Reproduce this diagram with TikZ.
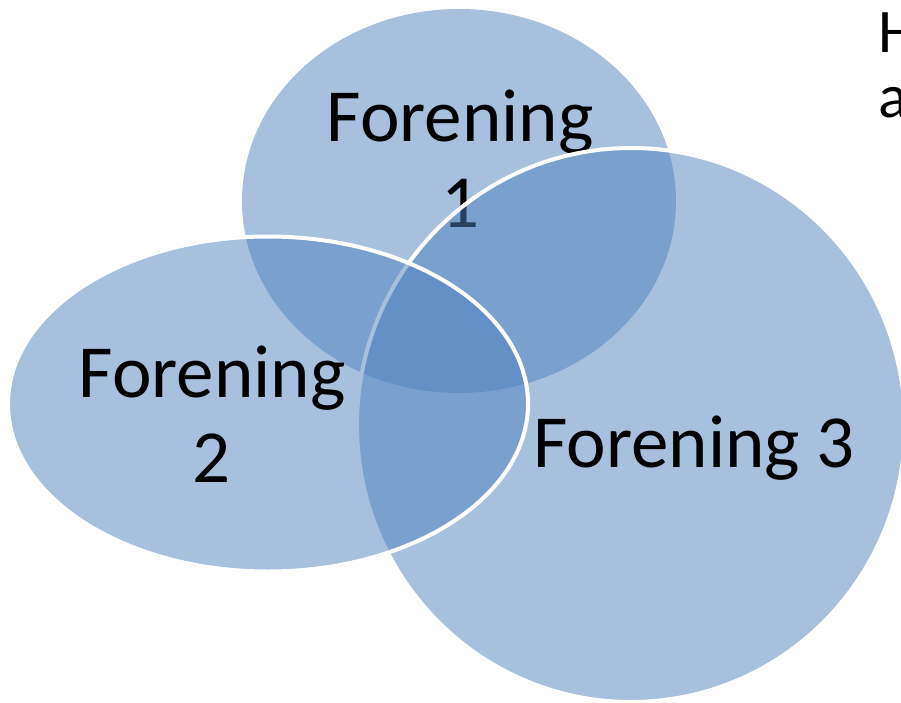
\documentclass[tikz,border=0pt]{standalone}
\usepackage{fontspec}
\setmainfont{Carlito}
\usetikzlibrary{shapes.geometric}
\definecolor{accent}{HTML}{4F81BD}
\begin{document}
\begin{tikzpicture}[x=1pt, y=-1pt,
    venn/.style = {shape=ellipse, inner sep=0pt, fill=accent, fill opacity=0.5},
    rim/.style = {draw=white, line width=4pt},
    txt/.style = {anchor=base, inner sep=0pt, font=\fontsize{75}{85}\selectfont},
    side/.style = {anchor=base west, inner sep=0pt, font=\fontsize{62}{65}\selectfont}]
  \useasboundingbox (0,0) rectangle (901,703);
  \node[venn, minimum width=434pt, minimum height=384pt] (f1) at (459,201) {};
  \node[txt] (f1a) at (460,142) {Forening};
  \node[txt] (f1b) at (460,227) {1};
  \node[venn, rim, minimum width=548pt, minimum height=554pt] (f3) at (631,425) {};
  \node[txt] (f3a) at (694,467) {Forening 3};
  \node[venn, rim, minimum width=520pt, minimum height=335pt] (f2) at (268,404) {};
  \node[txt] (f2a) at (212,397) {Forening};
  \node[txt] (f2b) at (212,482) {2};
  \node[side] (h) at (878,53) {H};
  \node[side] (a) at (878,118) {a};
\end{tikzpicture}
\end{document}
